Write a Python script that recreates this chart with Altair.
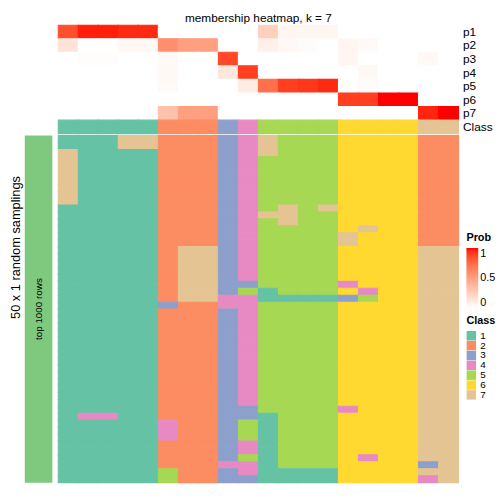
import altair as alt
import pandas as pd

# ---- data -------------------------------------------------------------
columns = list(range(1, 21))
col_class = [1, 1, 1, 1, 1, 2, 2, 2, 3, 4, 5, 5, 5, 5, 6, 6, 6, 6, 7, 7]

p1 = [0.85, 0.97, 0.97, 0.95, 0.95, 0, 0, 0, 0, 0, 0.25, 0.05, 0.05, 0.05, 0, 0, 0, 0, 0, 0]
p2 = [0.15, 0, 0, 0.04, 0.04, 0.58, 0.5, 0.5, 0, 0, 0.08, 0.04, 0.02, 0, 0.05, 0.03, 0, 0, 0, 0]
p3 = [0, 0.01, 0.01, 0, 0, 0.03, 0, 0, 0.87, 0, 0, 0, 0, 0, 0.05, 0, 0, 0, 0.04, 0]
p4 = [0, 0, 0, 0, 0, 0.04, 0, 0, 0.13, 0.9, 0, 0, 0, 0, 0, 0.04, 0, 0, 0, 0]
p5 = [0, 0, 0, 0, 0, 0.03, 0, 0, 0, 0.1, 0.72, 0.9, 0.92, 0.95, 0, 0.02, 0, 0, 0, 0]
p6 = [0, 0, 0, 0, 0, 0, 0, 0, 0, 0, 0, 0, 0, 0, 0.9, 0.9, 1.0, 1.0, 0, 0]
p7 = [0, 0, 0, 0, 0, 0.33, 0.5, 0.5, 0, 0, 0, 0, 0, 0, 0, 0, 0, 0, 0.96, 1.0]
prob_rows = {"p1": p1, "p2": p2, "p3": p3, "p4": p4, "p5": p5, "p6": p6, "p7": p7}

# 50 random samplings: class of each of the 20 columns
samplings = [
    "11177222347555666622", "11177222347555666622", "71111222347555666622",
    "71111222345555666622", "71111222345555666622", "71111222345555666622",
    "71111222345555666622", "71111222345555666622", "71111222345555666622",
    "71111222345555666622", "11111222345757666622", "11111222347755666622",
    "11111222345755666622", "11111222345555676622", "11111222345555766622",
    "11111222345555766622", "11111277345555666677", "11111277345555666677",
    "11111277345555666677", "11111277345555666677", "11111277345555666677",
    "11111277335555466677", "11111277351555646677", "11111277441111356677",
    "11111322445555666677", "11111222345555666677", "11111222345555666677",
    "11111222345555666677", "11111222345555666677", "11111222345555666677",
    "11111222345555666677", "11111222345555666677", "11111222345555666677",
    "11111222345555666677", "11111222345555666677", "11111222345555666677",
    "11111222345555666677", "11111222345555666677", "11111222345555666677",
    "11111222335555466677", "14411222331555666677", "11111422351555666677",
    "11111422351555666677", "11111422351555666677", "11111222341555666677",
    "11111222341555666677", "11111222351555646677", "11111222441555666637",
    "11111522341111666677", "11111522331111666647",
]

class_labels = ["1", "2", "3", "4", "5", "6", "7"]
class_colors = ["#66C2A5", "#FC8D62", "#8DA0CB", "#E78AC3", "#A6D854", "#FFD92F", "#E5C494"]
annotation_label = ["top 1000 rows"]
annotation_color = "#7FC97F"
top_rows = ["p1", "p2", "p3", "p4", "p5", "p6", "p7", "Class"]

# ---- tables -----------------------------------------------------------
prob_df = pd.DataFrame(
    [{"row": r, "col": c, "prob": v} for r, vals in prob_rows.items() for c, v in zip(columns, vals)]
)
class_df = pd.DataFrame({"row": "Class", "col": columns, "cls": [str(k) for k in col_class]})
main_df = pd.DataFrame(
    [{"run": i, "col": c, "cls": s[j]} for i, s in enumerate(samplings) for j, c in enumerate(columns)]
)
ann_df = pd.DataFrame({"label": annotation_label})

band0 = alt.Scale(paddingInner=0, paddingOuter=0)
fill_scale = alt.Scale(domain=class_labels, range=class_colors)
prob_scale = alt.Scale(domain=[0, 1], range=["#FFFFFF", "#FF0000"], interpolate="lab")

x_col = alt.X("col:O", axis=None, scale=band0)
y_top = alt.Y(
    "row:O",
    scale=alt.Scale(domain=top_rows, paddingInner=0, paddingOuter=0),
    axis=alt.Axis(orient="right", title=None, ticks=False, domain=False,
                  labelFontSize=12, labelPadding=4, labelColor="black"),
)

SW = 1.1

prob_layer = alt.Chart(prob_df).mark_rect(strokeWidth=SW, opacity=1).encode(
    x=x_col, y=y_top,
    color=alt.Color(
        "prob:Q", scale=prob_scale,
        legend=alt.Legend(title="Prob", orient="none", legendX=448, legendY=210, padding=0,
                          values=[0, 0.5, 1], format="~g", gradientLength=61,
                          gradientThickness=12, titleFontSize=11, labelFontSize=11,
                          direction="vertical", labelColor="black", titleColor="black"),
    ),
    stroke=alt.Stroke("prob:Q", scale=prob_scale, legend=None),
)
class_layer = alt.Chart(class_df).mark_rect(strokeWidth=SW, opacity=1).encode(
    x=x_col, y=y_top,
    fill=alt.Fill("cls:N", scale=fill_scale,
                  legend=alt.Legend(title="Class", orient="none", legendX=448, legendY=294,
                                    padding=0, symbolType="square", symbolSize=92,
                                    symbolStrokeWidth=0, symbolOpacity=1, rowPadding=0,
                                    titleFontSize=11, labelFontSize=10,
                                    labelColor="black", titleColor="black")),
    stroke=alt.Stroke("cls:N", scale=fill_scale, legend=None),
)
top = alt.layer(prob_layer, class_layer).properties(
    width=406, height=110,
    title=alt.Title("membership heatmap, k = 7", fontSize=12, fontWeight="normal",
                    offset=0, color="black"),
)

main = alt.Chart(main_df).mark_rect(strokeWidth=SW, opacity=1).encode(
    x=x_col,
    y=alt.Y("run:O", axis=None, scale=band0),
    fill=alt.Fill("cls:N", scale=fill_scale),
    stroke=alt.Stroke("cls:N", scale=fill_scale, legend=None),
).properties(width=406, height=352)

blank = alt.Chart(ann_df).mark_text(text="").encode(
    x=alt.X("label:N", axis=None, scale=band0)
).properties(width=28, height=110)

bar = alt.Chart(ann_df).mark_rect(color=annotation_color).encode(
    x=alt.X("label:N", axis=None, scale=band0)
)
bar_text = alt.Chart(ann_df).mark_text(angle=270, fontSize=10, color="black").encode(
    x=alt.X("label:N", axis=None, scale=band0), text="label:N"
)
left = alt.layer(bar, bar_text).properties(width=28, height=352)

chart = alt.concat(
    blank, top, left, main, columns=2, spacing={"row": 2, "column": 6}, bounds="flush"
).properties(
    title=alt.Title("50 x 1 random samplings", orient="left", anchor="middle",
                    fontSize=13, fontWeight="normal", offset=2, color="black"),
    padding={"left": 1, "top": 0, "right": 0, "bottom": 0},
).resolve_scale(
    x="independent", y="independent"
).configure(font="Liberation Sans").configure_view(stroke=None)

chart.save("out.html", embed_options={"renderer": "svg", "actions": False})
